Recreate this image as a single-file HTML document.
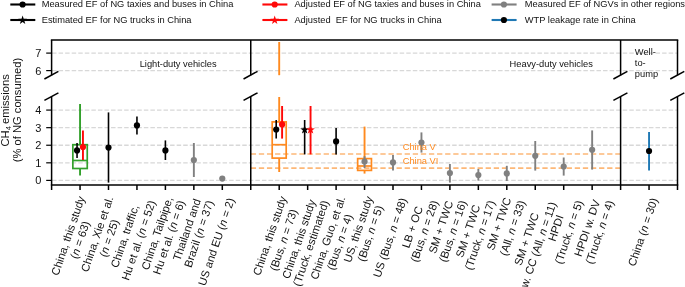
<!DOCTYPE html>
<html><head><meta charset="utf-8"><title>CH4 emissions chart</title>
<style>html,body{margin:0;padding:0;background:#fff;}body{width:685px;height:287px;overflow:hidden;}svg{display:block;}</style>
</head><body>
<svg width="685" height="287" viewBox="0 0 685 287" font-family='"Liberation Sans", Arial, Helvetica, sans-serif' fill="#111">
<rect width="685" height="287" fill="#fff"/>
<g stroke="#d8d8d8" stroke-width="1.3" stroke-dasharray="4.5 2.06" fill="none">
<line x1="52.00" x2="677.5" y1="180.40" y2="180.40"/>
<line x1="52.00" x2="677.5" y1="162.82" y2="162.82"/>
<line x1="52.00" x2="677.5" y1="145.24" y2="145.24"/>
<line x1="52.00" x2="677.5" y1="127.66" y2="127.66"/>
<line x1="52.00" x2="677.5" y1="110.08" y2="110.08"/>
<line x1="52.00" x2="677.5" y1="70.60" y2="70.60"/>
<line x1="52.00" x2="677.5" y1="53.10" y2="53.10"/>
</g>
<g stroke="#fdb878" stroke-width="1.6" stroke-dasharray="5.3 2.8" fill="none">
<line x1="250.75" x2="620.6" y1="154.03" y2="154.03"/>
<line x1="250.75" x2="620.6" y1="168.09" y2="168.09"/>
</g>
<line x1="80.05" x2="80.05" y1="104.00" y2="144.70" stroke="#33a02c" stroke-width="1.9"/>
<line x1="80.05" x2="80.05" y1="168.50" y2="175.60" stroke="#33a02c" stroke-width="1.9"/>
<rect x="72.85" y="144.70" width="14.40" height="23.80" fill="none" stroke="#33a02c" stroke-width="1.7"/>
<line x1="72.85" x2="87.25" y1="160.50" y2="160.50" stroke="#33a02c" stroke-width="1.7"/>
<line x1="77.05" x2="77.05" y1="143.00" y2="158.00" stroke="#000" stroke-width="1.6"/>
<circle cx="77.05" cy="150.40" r="3.1" fill="#000"/>
<line x1="82.95" x2="82.95" y1="130.40" y2="160.00" stroke="#ff0808" stroke-width="1.9"/>
<circle cx="82.95" cy="147.00" r="3.1" fill="#ff0808"/>
<line x1="108.50" x2="108.50" y1="112.40" y2="182.60" stroke="#000" stroke-width="1.6"/>
<circle cx="108.50" cy="147.60" r="3.1" fill="#000"/>
<line x1="136.95" x2="136.95" y1="116.40" y2="134.40" stroke="#000" stroke-width="1.6"/>
<circle cx="136.95" cy="125.40" r="3.1" fill="#000"/>
<line x1="165.40" x2="165.40" y1="140.40" y2="160.00" stroke="#000" stroke-width="1.6"/>
<circle cx="165.40" cy="150.40" r="3.1" fill="#000"/>
<line x1="193.85" x2="193.85" y1="143.00" y2="177.00" stroke="#808080" stroke-width="1.9"/>
<circle cx="193.85" cy="160.00" r="3.1" fill="#808080"/>
<circle cx="222.30" cy="178.60" r="3.1" fill="#808080"/>
<line x1="279.20" x2="279.20" y1="42.00" y2="75.20" stroke="#ff8a1f" stroke-width="1.9"/>
<line x1="279.20" x2="279.20" y1="97.00" y2="121.90" stroke="#ff8a1f" stroke-width="1.9"/>
<line x1="279.20" x2="279.20" y1="158.10" y2="172.00" stroke="#ff8a1f" stroke-width="1.9"/>
<rect x="272.20" y="121.90" width="14.00" height="36.20" fill="none" stroke="#ff8a1f" stroke-width="1.7"/>
<line x1="272.20" x2="286.20" y1="144.70" y2="144.70" stroke="#ff8a1f" stroke-width="1.7"/>
<line x1="276.20" x2="276.20" y1="120.00" y2="138.60" stroke="#000" stroke-width="1.6"/>
<circle cx="276.20" cy="129.50" r="3.1" fill="#000"/>
<line x1="282.10" x2="282.10" y1="106.00" y2="138.60" stroke="#ff0808" stroke-width="1.9"/>
<circle cx="282.10" cy="124.40" r="3.1" fill="#ff0808"/>
<line x1="304.65" x2="304.65" y1="120.00" y2="154.40" stroke="#000" stroke-width="1.6"/>
<polygon points="304.65,125.20 305.73,128.31 309.02,128.38 306.40,130.37 307.35,133.52 304.65,131.64 301.95,133.52 302.90,130.37 300.28,128.38 303.57,128.31" fill="#000"/>
<line x1="310.55" x2="310.55" y1="106.00" y2="154.40" stroke="#ff0808" stroke-width="1.9"/>
<polygon points="310.55,125.20 311.63,128.31 314.92,128.38 312.30,130.37 313.25,133.52 310.55,131.64 307.85,133.52 308.80,130.37 306.18,128.38 309.47,128.31" fill="#ff0808"/>
<line x1="336.10" x2="336.10" y1="128.00" y2="154.40" stroke="#000" stroke-width="1.6"/>
<circle cx="336.10" cy="141.40" r="3.1" fill="#000"/>
<line x1="364.55" x2="364.55" y1="126.60" y2="158.60" stroke="#ff8a1f" stroke-width="1.9"/>
<line x1="364.55" x2="364.55" y1="170.40" y2="173.60" stroke="#ff8a1f" stroke-width="1.9"/>
<rect x="357.65" y="158.60" width="13.80" height="11.80" fill="none" stroke="#ff8a1f" stroke-width="1.7"/>
<line x1="357.65" x2="371.45" y1="166.00" y2="166.00" stroke="#ff8a1f" stroke-width="1.7"/>
<line x1="364.55" x2="364.55" y1="156.20" y2="168.00" stroke="#808080" stroke-width="1.9"/>
<circle cx="364.55" cy="161.60" r="3.1" fill="#808080"/>
<line x1="393.00" x2="393.00" y1="155.00" y2="170.60" stroke="#808080" stroke-width="1.9"/>
<circle cx="393.00" cy="162.40" r="3.1" fill="#808080"/>
<line x1="421.45" x2="421.45" y1="132.40" y2="152.60" stroke="#808080" stroke-width="1.9"/>
<circle cx="421.45" cy="142.60" r="3.1" fill="#808080"/>
<line x1="449.90" x2="449.90" y1="164.00" y2="182.60" stroke="#808080" stroke-width="1.9"/>
<circle cx="449.90" cy="173.00" r="3.1" fill="#808080"/>
<line x1="478.35" x2="478.35" y1="169.00" y2="180.60" stroke="#808080" stroke-width="1.9"/>
<circle cx="478.35" cy="175.00" r="3.1" fill="#808080"/>
<line x1="506.80" x2="506.80" y1="165.80" y2="181.00" stroke="#808080" stroke-width="1.9"/>
<circle cx="506.80" cy="173.40" r="3.1" fill="#808080"/>
<line x1="535.25" x2="535.25" y1="141.00" y2="170.60" stroke="#808080" stroke-width="1.9"/>
<circle cx="535.25" cy="155.80" r="3.1" fill="#808080"/>
<line x1="563.70" x2="563.70" y1="157.50" y2="175.60" stroke="#808080" stroke-width="1.9"/>
<circle cx="563.70" cy="166.50" r="3.1" fill="#808080"/>
<line x1="592.15" x2="592.15" y1="130.40" y2="169.60" stroke="#808080" stroke-width="1.9"/>
<circle cx="592.15" cy="149.80" r="3.1" fill="#808080"/>
<line x1="649.05" x2="649.05" y1="132.00" y2="170.60" stroke="#1f78b4" stroke-width="1.9"/>
<circle cx="649.05" cy="151.00" r="3.1" fill="#000"/>
<g font-size="9.3" fill="#ff8a1f"><text x="402.7" y="150.4">China V</text><text x="402.7" y="164.4">China VI</text></g>
<g stroke="#000" stroke-width="1.5" fill="none" stroke-linecap="butt">
<line x1="50.85" x2="678.25" y1="40.0" y2="40.0"/>
<line x1="50.85" x2="678.25" y1="185.1" y2="185.1"/>
<line x1="51.60" x2="51.60" y1="40.0" y2="75.2"/>
<line x1="51.60" x2="51.60" y1="96.6" y2="190.0"/>
<line x1="44.40" x2="58.40" y1="79.0" y2="71.3"/>
<line x1="44.40" x2="58.40" y1="100.4" y2="92.8"/>
<line x1="250.75" x2="250.75" y1="40.0" y2="75.2"/>
<line x1="250.75" x2="250.75" y1="96.6" y2="190.0"/>
<line x1="243.55" x2="257.55" y1="79.0" y2="71.3"/>
<line x1="243.55" x2="257.55" y1="100.4" y2="92.8"/>
<line x1="620.60" x2="620.60" y1="40.0" y2="75.2"/>
<line x1="620.60" x2="620.60" y1="96.6" y2="190.0"/>
<line x1="613.40" x2="627.40" y1="79.0" y2="71.3"/>
<line x1="613.40" x2="627.40" y1="100.4" y2="92.8"/>
<line x1="677.50" x2="677.50" y1="40.0" y2="75.2"/>
<line x1="677.50" x2="677.50" y1="96.6" y2="190.0"/>
<line x1="670.30" x2="684.30" y1="79.0" y2="71.3"/>
<line x1="670.30" x2="684.30" y1="100.4" y2="92.8"/>
<line x1="80.05" x2="80.05" y1="185.1" y2="190.0"/>
<line x1="108.50" x2="108.50" y1="185.1" y2="190.0"/>
<line x1="136.95" x2="136.95" y1="185.1" y2="190.0"/>
<line x1="165.40" x2="165.40" y1="185.1" y2="190.0"/>
<line x1="193.85" x2="193.85" y1="185.1" y2="190.0"/>
<line x1="222.30" x2="222.30" y1="185.1" y2="190.0"/>
<line x1="279.20" x2="279.20" y1="185.1" y2="190.0"/>
<line x1="307.65" x2="307.65" y1="185.1" y2="190.0"/>
<line x1="336.10" x2="336.10" y1="185.1" y2="190.0"/>
<line x1="364.55" x2="364.55" y1="185.1" y2="190.0"/>
<line x1="393.00" x2="393.00" y1="185.1" y2="190.0"/>
<line x1="421.45" x2="421.45" y1="185.1" y2="190.0"/>
<line x1="449.90" x2="449.90" y1="185.1" y2="190.0"/>
<line x1="478.35" x2="478.35" y1="185.1" y2="190.0"/>
<line x1="506.80" x2="506.80" y1="185.1" y2="190.0"/>
<line x1="535.25" x2="535.25" y1="185.1" y2="190.0"/>
<line x1="563.70" x2="563.70" y1="185.1" y2="190.0"/>
<line x1="592.15" x2="592.15" y1="185.1" y2="190.0"/>
<line x1="649.05" x2="649.05" y1="185.1" y2="190.0"/>
<line x1="46.2" x2="51.6" y1="180.40" y2="180.40" stroke-width="1.2"/>
<line x1="46.2" x2="51.6" y1="162.82" y2="162.82" stroke-width="1.2"/>
<line x1="46.2" x2="51.6" y1="145.24" y2="145.24" stroke-width="1.2"/>
<line x1="46.2" x2="51.6" y1="127.66" y2="127.66" stroke-width="1.2"/>
<line x1="46.2" x2="51.6" y1="110.08" y2="110.08" stroke-width="1.2"/>
<line x1="46.2" x2="51.6" y1="70.60" y2="70.60" stroke-width="1.2"/>
<line x1="46.2" x2="51.6" y1="53.10" y2="53.10" stroke-width="1.2"/>
</g>
<g font-size="11" text-anchor="end">
<text x="41.3" y="184.35">0</text>
<text x="41.3" y="166.77">1</text>
<text x="41.3" y="149.19">2</text>
<text x="41.3" y="131.61">3</text>
<text x="41.3" y="114.03">4</text>
<text x="41.3" y="74.55">6</text>
<text x="41.3" y="57.05">7</text>
</g>
<text font-size="11.2" text-anchor="middle" transform="translate(8.7 110.4) rotate(-90)">CH<tspan font-size="7.6" dy="2.4">4</tspan><tspan dy="-2.4" dx="-1"> emissions</tspan></text>
<text font-size="11.2" text-anchor="middle" transform="translate(20.8 110.1) rotate(-90)">(% of NG consumed)</text>
<g font-size="9.3">
<text x="139.7" y="66.6">Light-duty vehicles</text>
<text x="509.6" y="66.6">Heavy-duty vehicles</text>
<text x="634.8" y="54.8">Well-</text><text x="634.8" y="65.9">to-</text><text x="634.8" y="77.0">pump</text>
</g>
<line x1="10.3" x2="35.3" y1="4.5" y2="4.5" stroke="#000" stroke-width="2.1"/>
<circle cx="22.60" cy="4.50" r="3.1" fill="#000"/>
<text x="41.7" y="7.30" font-size="9.3" xml:space="preserve">Measured EF of NG taxies and buses in China</text>
<line x1="10.3" x2="35.3" y1="20" y2="20" stroke="#000" stroke-width="2.1"/>
<polygon points="22.60,15.60 23.68,18.71 26.97,18.78 24.35,20.77 25.30,23.92 22.60,22.04 19.90,23.92 20.85,20.77 18.23,18.78 21.52,18.71" fill="#000"/>
<text x="41.7" y="22.80" font-size="9.3" xml:space="preserve">Estimated EF for NG trucks in China</text>
<line x1="262.4" x2="287.4" y1="4.5" y2="4.5" stroke="#ff0808" stroke-width="2.1"/>
<circle cx="274.70" cy="4.50" r="3.1" fill="#ff0808"/>
<text x="294.4" y="7.30" font-size="9.3" xml:space="preserve">Adjusted EF of NG taxies and buses in China</text>
<line x1="262.4" x2="287.4" y1="20" y2="20" stroke="#ff0808" stroke-width="2.1"/>
<polygon points="274.70,15.60 275.78,18.71 279.07,18.78 276.45,20.77 277.40,23.92 274.70,22.04 272.00,23.92 272.95,20.77 270.33,18.78 273.62,18.71" fill="#ff0808"/>
<text x="294.4" y="22.80" font-size="9.3" xml:space="preserve">Adjusted  EF for NG trucks in China</text>
<line x1="491.6" x2="516.6" y1="4.5" y2="4.5" stroke="#808080" stroke-width="2.1"/>
<circle cx="503.90" cy="4.50" r="3.1" fill="#808080"/>
<text x="524.8" y="7.30" font-size="9.3" xml:space="preserve">Measured EF of NGVs in other regions</text>
<line x1="491.6" x2="516.6" y1="20" y2="20" stroke="#1f78b4" stroke-width="2.1"/>
<circle cx="503.90" cy="20.00" r="3.1" fill="#000"/>
<text x="524.8" y="22.80" font-size="9.3" xml:space="preserve">WTP leakage rate in China</text>
<g font-size="11.2">
<text transform="translate(85.01 197.84) rotate(-71.2)" x="-41.40" y="0.00" text-anchor="middle">China, this study</text>
<text transform="translate(85.01 197.84) rotate(-71.2)" x="-41.40" y="12.60" text-anchor="middle">(<tspan font-style="italic">n</tspan> = 63)</text>
<text transform="translate(113.46 197.84) rotate(-71.2)" x="-39.53" y="0.00" text-anchor="middle">China, Xie et al.</text>
<text transform="translate(113.46 197.84) rotate(-71.2)" x="-39.53" y="12.60" text-anchor="middle">(<tspan font-style="italic">n</tspan> = 25)</text>
<text transform="translate(141.91 197.84) rotate(-71.2)" x="-41.86" y="0.00" text-anchor="middle">China, traffic,</text>
<text transform="translate(143.81 197.84) rotate(-71.2)" x="-41.86" y="12.60" text-anchor="middle">Hu et al. (<tspan font-style="italic">n</tspan> = 52)</text>
<text transform="translate(173.16 197.84) rotate(-71.2)" x="-38.75" y="0.00" text-anchor="middle">China, Tailpipe,</text>
<text transform="translate(173.16 197.84) rotate(-71.2)" x="-38.75" y="12.60" text-anchor="middle">Hu et al. (<tspan font-style="italic">n</tspan> = 6)</text>
<text transform="translate(201.81 197.84) rotate(-71.2)" x="-35.01" y="0.00" text-anchor="middle">Thailand and</text>
<text transform="translate(201.81 197.84) rotate(-71.2)" x="-35.01" y="12.60" text-anchor="middle">Brazil (<tspan font-style="italic">n</tspan> = 37)</text>
<text transform="translate(234.80 199.50) rotate(-71.2)" x="-45.91" y="0" text-anchor="middle">US and EU (<tspan font-style="italic">n</tspan> = 2)</text>
<text transform="translate(286.76 197.84) rotate(-71.2)" x="-41.40" y="0.00" text-anchor="middle">China, this study</text>
<text transform="translate(288.56 197.84) rotate(-71.2)" x="-41.40" y="12.60" text-anchor="middle">(Bus, <tspan font-style="italic">n</tspan> = 73)</text>
<text transform="translate(317.01 197.84) rotate(-71.2)" x="-44.91" y="0.00" text-anchor="middle">China, this study</text>
<text transform="translate(317.01 197.84) rotate(-71.2)" x="-44.91" y="12.60" text-anchor="middle">(Truck, estimated)</text>
<text transform="translate(345.46 197.84) rotate(-71.2)" x="-43.58" y="0.00" text-anchor="middle">China, Guo, et al.</text>
<text transform="translate(345.46 197.84) rotate(-71.2)" x="-43.58" y="12.60" text-anchor="middle">(Bus, <tspan font-style="italic">n</tspan> = 4)</text>
<text transform="translate(373.01 197.84) rotate(-71.2)" x="-34.55" y="0.00" text-anchor="middle">US, this study</text>
<text transform="translate(373.01 197.84) rotate(-71.2)" x="-34.55" y="12.60" text-anchor="middle">(Bus, <tspan font-style="italic">n</tspan> = 5)</text>
<text transform="translate(407.00 199.50) rotate(-71.2)" x="-41.55" y="0" text-anchor="middle">US (Bus, <tspan font-style="italic">n</tspan> = 48)</text>
<text transform="translate(426.41 197.84) rotate(-71.2)" x="-32.21" y="0.00" text-anchor="middle">LB + OC</text>
<text transform="translate(426.41 197.84) rotate(-71.2)" x="-32.21" y="12.60" text-anchor="middle">(Bus, <tspan font-style="italic">n</tspan> = 28)</text>
<text transform="translate(454.86 197.84) rotate(-71.2)" x="-32.21" y="0.00" text-anchor="middle">SM + TWC</text>
<text transform="translate(454.86 197.84) rotate(-71.2)" x="-32.21" y="12.60" text-anchor="middle">(Bus, <tspan font-style="italic">n</tspan> = 16)</text>
<text transform="translate(483.31 197.84) rotate(-71.2)" x="-36.36" y="0.00" text-anchor="middle">SM + TWC</text>
<text transform="translate(483.31 197.84) rotate(-71.2)" x="-36.36" y="12.60" text-anchor="middle">(Truck, <tspan font-style="italic">n</tspan> = 17)</text>
<text transform="translate(511.76 197.84) rotate(-71.2)" x="-28.79" y="0.00" text-anchor="middle">SM + TWC</text>
<text transform="translate(513.46 197.84) rotate(-71.2)" x="-28.79" y="12.60" text-anchor="middle">(All, <tspan font-style="italic">n</tspan> = 33)</text>
<text transform="translate(544.61 197.84) rotate(-71.2)" x="-44.86" y="0.00" text-anchor="middle">SM + TWC</text>
<text transform="translate(544.49 199.35) rotate(-71.2)" x="-44.86" y="12.60" text-anchor="middle">w. CC (All, <tspan font-style="italic">n</tspan> = 11)</text>
<text transform="translate(570.16 197.84) rotate(-71.2)" x="-33.24" y="0.00" text-anchor="middle">HPDI</text>
<text transform="translate(571.26 197.84) rotate(-71.2)" x="-33.24" y="12.60" text-anchor="middle">(Truck, <tspan font-style="italic">n</tspan> = 5)</text>
<text transform="translate(601.51 197.84) rotate(-71.2)" x="-33.24" y="0.00" text-anchor="middle">HPDI w. DV</text>
<text transform="translate(602.11 197.84) rotate(-71.2)" x="-33.24" y="12.60" text-anchor="middle">(Truck, <tspan font-style="italic">n</tspan> = 4)</text>
<text transform="translate(658.05 199.50) rotate(-71.2)" x="-35.64" y="0" text-anchor="middle">China (<tspan font-style="italic">n</tspan> = 30)</text>
</g>
</svg>
</body></html>
